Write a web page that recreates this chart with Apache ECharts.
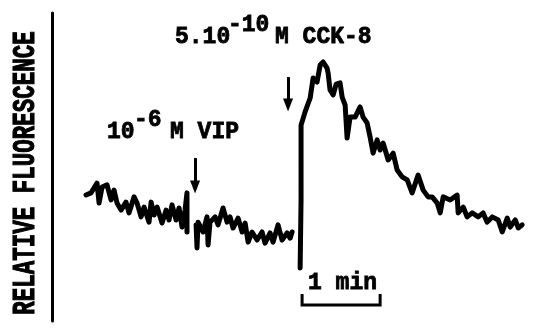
<!DOCTYPE html>
<html>
<head>
<meta charset="utf-8">
<script src="https://cdn.jsdelivr.net/npm/echarts@6/dist/echarts.min.js"></script>
<style>
html,body{margin:0;padding:0;background:#fff;}
#chart{width:533px;height:328px;}
</style>
</head>
<body>
<div id="chart"></div>
<script>
// ---- data (time in s, fluorescence in arbitrary units) ----
const baselineTime = [26.2, 30, 32.3, 34.6, 36.2, 38.5, 42.3, 45.4, 47.7, 50, 53.1, 56.9, 59.2, 63.1, 65.4, 68.5, 70.8, 74.6, 76.2, 78.5, 80.8, 84.6, 87.7, 90, 92.3, 95.4, 97.7, 100, 102.3, 103.8, 103.8];
const baselineFluor = [40.9, 41.6, 43.2, 44.8, 38.3, 43.5, 44.2, 39.3, 42.5, 38.3, 36.0, 38.6, 35.1, 40.3, 38.3, 33.8, 37.0, 32.1, 38.6, 34.4, 37.0, 31.8, 36.0, 32.8, 37.7, 32.8, 36.7, 30.5, 36.0, 41.6, 28.9];

const vipTime = [110.8, 111.5, 112.3, 116.2, 119.2, 120, 121.5, 125.4, 127.7, 131.5, 134.6, 136.9, 139.2, 143.1, 146.2, 148.5, 150.8, 153.8, 157.7, 161.5, 163.8, 167.7, 170, 173.8, 176.9, 180.8, 183.1, 184.6];
const vipFluor = [31.2, 23.7, 32.1, 28.9, 33.8, 24.7, 32.1, 33.8, 31.2, 36.7, 32.1, 33.8, 30.2, 33.4, 28.9, 31.8, 25.6, 28.9, 26.3, 28.9, 25.3, 28.6, 25.6, 31.2, 26.3, 28.6, 26.9, 28.9];

const cckTime = [190.8, 191.5, 191.5, 194.6, 198.5, 200.8, 203.8, 206.2, 208.5, 210, 211.5, 212.3, 213.8, 216.2, 218.5, 221.5, 223.1, 225.4, 226.9, 229.2, 233.1, 236.9, 239.2, 242.3, 244.6, 246.9, 250, 252.3, 254.6, 258.5, 262.3, 265.4, 269.2, 273.1, 276.9, 281.5, 285.4, 289.2, 292.3, 296.2, 298.5, 300.8, 306.2, 311.5, 312.3, 316.2, 319.2, 323.1, 327.7, 331.5, 334.6, 338.5, 343.1, 346.2, 350, 352.3, 356.2, 358.5, 361.5];
const cckFluor = [17.2, 39.3, 63.6, 67.9, 72.4, 78.9, 77.6, 83.1, 84.1, 83.1, 82.1, 80.5, 75.0, 73.4, 76.9, 77.3, 72.7, 70.1, 59.4, 66.2, 66.2, 69.5, 66.2, 64.3, 59.7, 54.5, 58.8, 55.5, 57.8, 52.3, 54.5, 49.0, 46.8, 45.8, 41.6, 47.4, 42.5, 40.3, 40.3, 38.3, 35.1, 40.3, 39.3, 40.9, 35.1, 37.0, 33.8, 35.1, 33.8, 35.1, 32.1, 33.8, 32.8, 28.9, 33.4, 30.5, 32.8, 30.2, 31.2];

// additions (time, arrow top, arrow end)
const additionTimes = [110, 181.5];
const arrowTop = [52.9, 79.2];
const arrowEnd = [43.5, 70.1];

// time scale bar
const scaleBarStart = 192.3;
const scaleBarSeconds = 60;
const scaleBarLevels = [8.8, 5.2];

// texts
const yTitle = 'RELATIVE FLUORESCENCE';
const cckLabel = ['5.10', '-10', 'M CCK-8'];
const vipLabel = ['10', '-6', 'M VIP'];
const scaleLabel = '1 min';

// ---- chart ----
const zip = (a, b) => a.map((v, i) => [v, b[i]]);
const FONT = '"Liberation Mono", "DejaVu Sans Mono", monospace';
const traceStyle = { color: '#000', width: 5, join: 'round', cap: 'round' };

const chart = echarts.init(document.getElementById('chart'), null, { renderer: 'canvas' });

function txt(text, x, y, extra) {
  return Object.assign({
    type: 'text', x: x, y: y, silent: true,
    style: { text: text, fill: '#000', stroke: '#000', lineWidth: 0.8, fontFamily: FONT, fontWeight: 'bold', fontSize: 23, align: 'left', verticalAlign: 'middle' }
  }, extra || {});
}

chart.setOption({
  animation: false,
  backgroundColor: '#fff',
  grid: { left: 52, right: 5, top: 13, bottom: 7, containLabel: false },
  xAxis: { type: 'value', min: 0, max: 366, show: false },
  yAxis: {
    type: 'value', min: 0, max: 100,
    axisLine: { show: true, lineStyle: { color: '#000', width: 3 } },
    axisTick: { show: false }, axisLabel: { show: false }, splitLine: { show: false }
  },
  series: [
    { type: 'line', data: zip(baselineTime, baselineFluor), showSymbol: false, symbol: 'none', lineStyle: traceStyle },
    {
      type: 'line', data: zip(vipTime, vipFluor), showSymbol: false, symbol: 'none', lineStyle: traceStyle,
      markLine: {
        silent: true, animation: false,
        symbol: ['none', 'triangle'], symbolSize: [10, 13],
        lineStyle: { color: '#000', width: 3, type: 'solid' },
        label: { show: false },
        data: additionTimes.map((t, i) => [{ coord: [t, arrowTop[i]] }, { coord: [t, arrowEnd[i]] }])
      }
    },
    { type: 'line', data: zip(cckTime, cckFluor), showSymbol: false, symbol: 'none', lineStyle: traceStyle },
    {
      type: 'line', showSymbol: false, symbol: 'none',
      lineStyle: { color: '#000', width: 3, join: 'miter', cap: 'butt' },
      data: [
        [scaleBarStart, scaleBarLevels[0]],
        [scaleBarStart, scaleBarLevels[1]],
        [scaleBarStart + scaleBarSeconds, scaleBarLevels[1]],
        [scaleBarStart + scaleBarSeconds, scaleBarLevels[0]]
      ]
    }
  ],
  graphic: [
    {
      type: 'text', x: 26, y: 173, rotation: Math.PI / 2, scaleY: 1.4, silent: true,
      style: { text: yTitle, fill: '#000', stroke: '#000', lineWidth: 0.8, fontFamily: FONT, fontWeight: 'bold', fontSize: 22.5, align: 'center', verticalAlign: 'middle' }
    },
    txt(cckLabel[0], 175, 37),
    txt(cckLabel[1], 228, 25),
    txt(cckLabel[2], 275, 37),
    txt(vipLabel[0], 107, 132),
    txt(vipLabel[1], 134, 120),
    txt(vipLabel[2], 170, 132),
    txt(scaleLabel, 308, 283)
  ]
});
</script>
</body>
</html>
